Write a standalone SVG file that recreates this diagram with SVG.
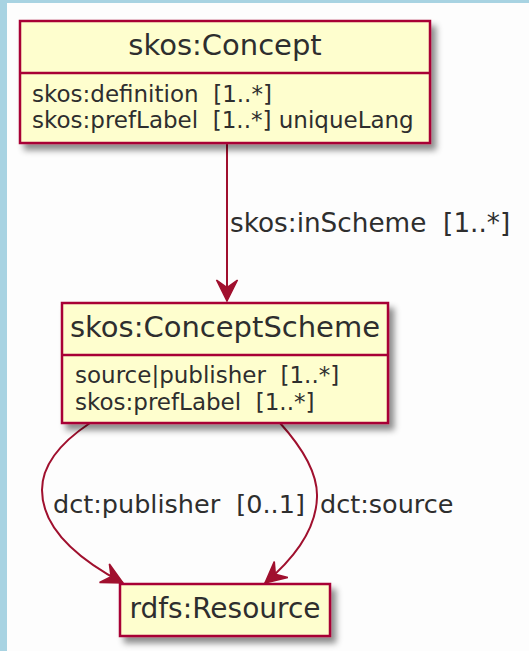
<svg xmlns="http://www.w3.org/2000/svg" width="529" height="651" viewBox="0 0 529 651" xml:space="preserve">
<style>
.bg{fill:#fdfdfd}
.strip{fill:#a8d3e2}
.box{fill:#fefece;stroke:#a80036;stroke-width:2.5}
.div{stroke:#a80036;stroke-width:2.5}
.t{font-family:"DejaVu Sans",sans-serif;fill:#2e2e2e;white-space:pre}
.title{font-size:28px;text-anchor:middle}
.attr{font-size:23px}
.lbl{font-size:25.5px}
.edge{fill:none;stroke:#a0102e;stroke-width:2}
</style>
<defs>
<filter id="sh" x="-10%" y="-10%" width="130%" height="140%">
<feDropShadow dx="5" dy="6" stdDeviation="3" flood-color="#000" flood-opacity="0.45"/>
</filter>
<marker id="ah" markerUnits="userSpaceOnUse" markerWidth="30" markerHeight="30" viewBox="-16 -10 20 20" refX="0" refY="0" orient="auto">
<path d="M0,0 L-14,-7 L-9,0 L-14,7 Z" fill="#a0102e" stroke="#a0102e" stroke-width="1"/>
</marker>
</defs>
<rect class="bg" x="0" y="0" width="529" height="651"/>
<rect class="strip" x="0" y="0" width="7" height="651"/>
<rect class="strip" x="0" y="0" width="529" height="3"/>

<g id="connectors">
<path class="edge" d="M227,143 L227,301" marker-end="url(#ah)"/>
<text class="t lbl" x="230" y="232" style="font-size:26.3px">skos:inScheme  [1..*]</text>
<path class="edge" d="M90,423 Q42,455 42,490 Q42,540 123,583" marker-end="url(#ah)"/>
<text class="t lbl" x="53" y="513">dct:publisher  [0..1]</text>
<path class="edge" d="M280,423 Q318,465 317,497 Q316,540 265,583" marker-end="url(#ah)"/>
<text class="t lbl" x="320" y="513">dct:source</text>
</g>

<g id="skos-Concept">
<rect class="box" x="20" y="21" width="410" height="122" filter="url(#sh)"/>
<line class="div" x1="20" y1="73" x2="430" y2="73"/>
<text class="t title" x="225" y="55" style="font-size:29px">skos:Concept</text>
<text class="t attr" x="32" y="102">skos:definition  [1..*]</text>
<text class="t attr" x="32" y="128">skos:prefLabel  [1..*] uniqueLang</text>
</g>

<g id="skos-ConceptScheme">
<rect class="box" x="62" y="303" width="326" height="120" filter="url(#sh)"/>
<line class="div" x1="62" y1="355" x2="388" y2="355"/>
<text class="t title" x="225" y="337" style="font-size:29px">skos:ConceptScheme</text>
<text class="t attr" x="75" y="383">source|publisher  [1..*]</text>
<text class="t attr" x="75" y="410">skos:prefLabel  [1..*]</text>
</g>

<g id="rdfs-Resource">
<rect class="box" x="120" y="584" width="210" height="52" filter="url(#sh)"/>
<text class="t title" x="225" y="618">rdfs:Resource</text>
</g>
</svg>
